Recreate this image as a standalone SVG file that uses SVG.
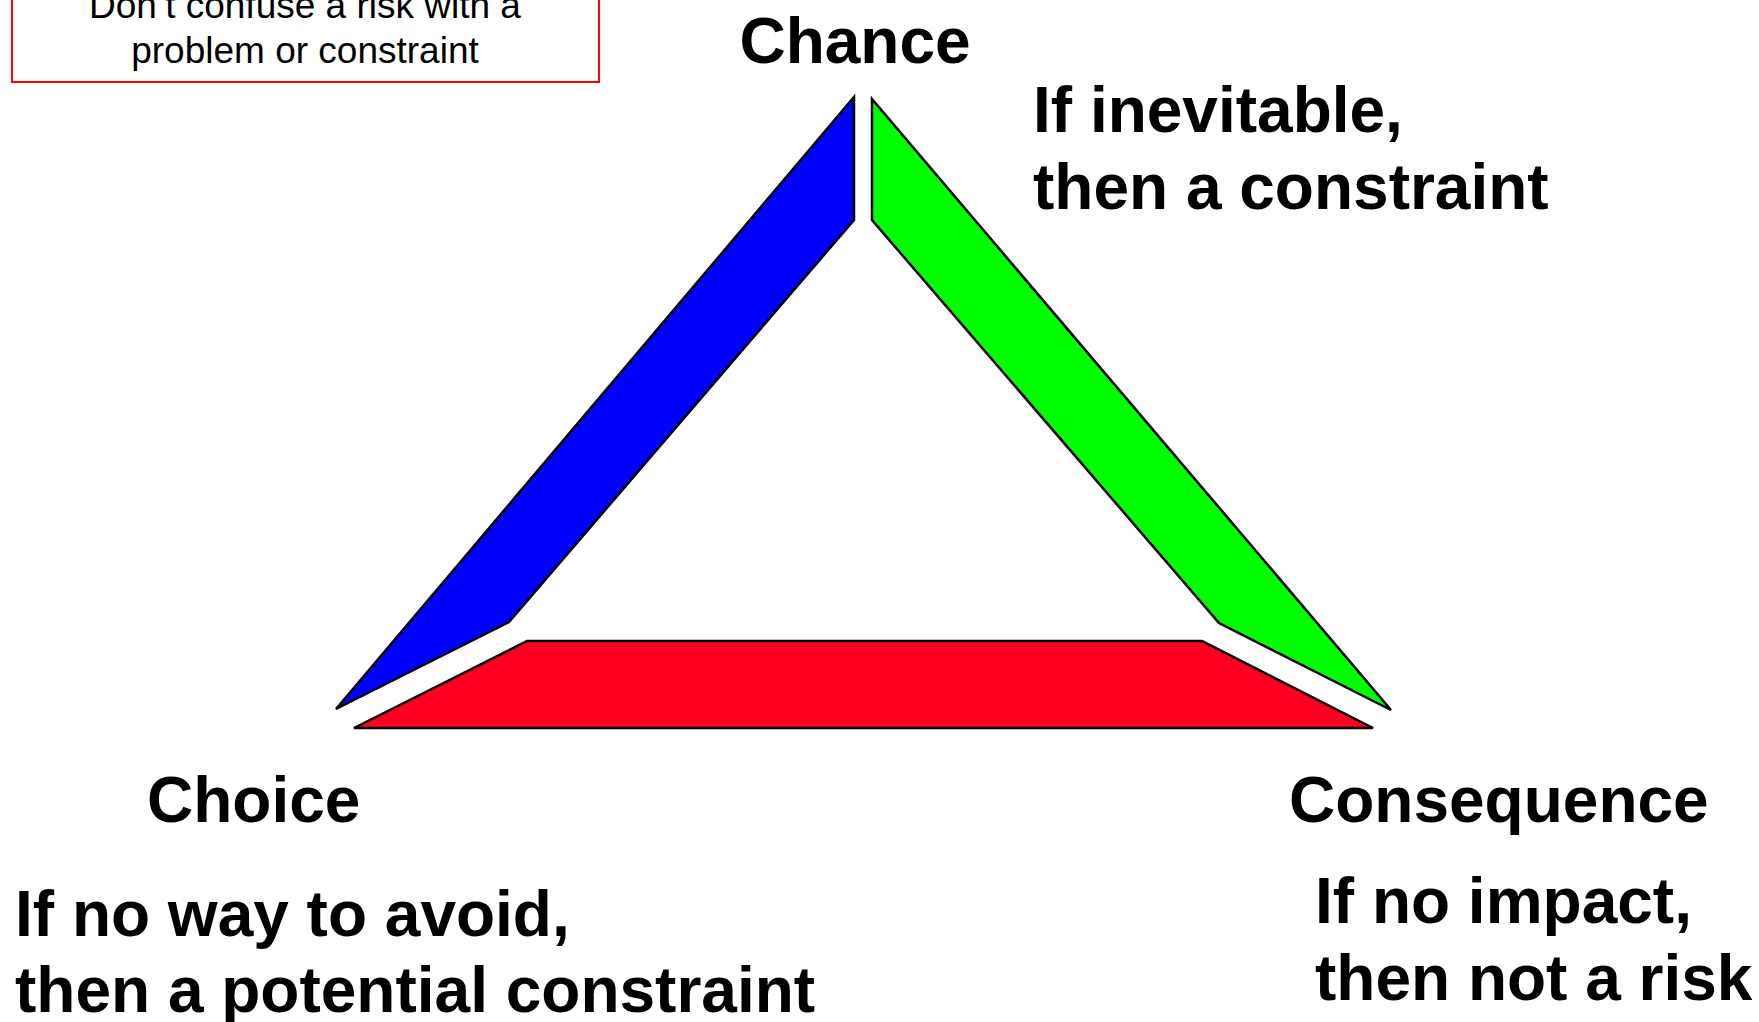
<svg xmlns="http://www.w3.org/2000/svg" width="1759" height="1022" viewBox="0 0 1759 1022">
  <style>
    .bold { font-family: "Liberation Sans", Arial, sans-serif; font-weight: bold; font-size: 64px; fill: #000; }
    .note { font-family: "Liberation Sans", Arial, sans-serif; font-size: 37px; fill: #000; text-anchor: middle; }
    .side { stroke: #000; stroke-width: 2.5; stroke-linejoin: miter; }
  </style>
  <rect width="1759" height="1022" fill="#fff"/>
  <g id="note">
    <rect x="12" y="-40" width="587" height="122" fill="#fff" stroke="#ff0000" stroke-width="2"/>
    <text class="note" x="305" y="18">Don’t confuse a risk with a</text>
    <text class="note" x="305" y="63">problem or constraint</text>
  </g>
  <g id="side-choice">
    <polygon class="side" fill="#0000ff" points="854,97 336,709 509,622 854,220"/>
  </g>
  <g id="side-chance">
    <polygon class="side" fill="#00ff00" points="872,99 1391,710 1219,623 872,220"/>
  </g>
  <g id="side-consequence">
    <polygon class="side" fill="#ff0022" points="354,728 527,641 1202,641 1373,728"/>
  </g>
  <g id="chance">
    <text class="bold" x="855" y="63" text-anchor="middle">Chance</text>
    <text class="bold" x="1033" y="132">If inevitable,</text>
    <text class="bold" x="1033" y="209">then a constraint</text>
  </g>
  <g id="choice">
    <text class="bold" x="147" y="822">Choice</text>
    <text class="bold" x="15" y="936">If no way to avoid,</text>
    <text class="bold" x="15" y="1012">then a potential constraint</text>
  </g>
  <g id="consequence">
    <text class="bold" x="1289" y="822">Consequence</text>
    <text class="bold" x="1315" y="923">If no impact,</text>
    <text class="bold" x="1315" y="1000">then not a risk</text>
  </g>
</svg>
